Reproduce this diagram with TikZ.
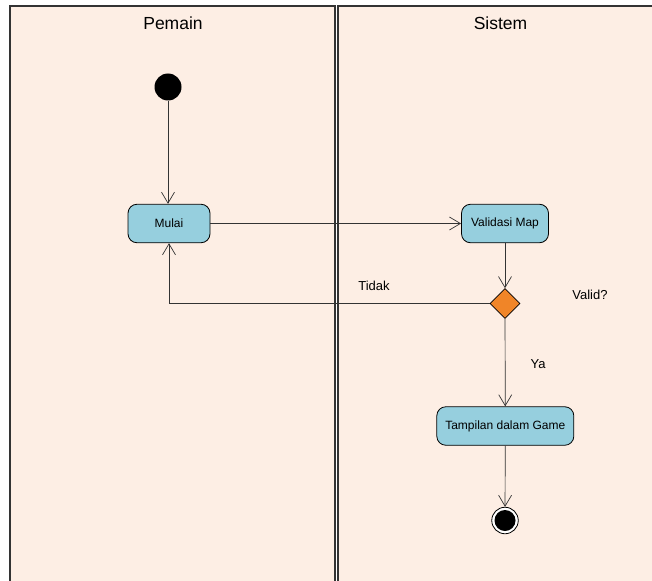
\documentclass[tikz,border=0pt]{standalone}
\usepackage{fontspec}
\setmainfont{Liberation Sans}
\usetikzlibrary{shapes.geometric, arrows.meta, calc}
\definecolor{latar}{RGB}{253,238,228}
\definecolor{biru}{RGB}{150,207,222}
\definecolor{oranye}{RGB}{240,133,40}
\tikzstyle{jalur} = [
    rectangle,
    draw = black!80,
    line width = 1.5pt,
    fill = latar,
]
\tikzstyle{aktivitas} = [
    rectangle,
    rounded corners = 9pt,
    minimum height = 38.5pt,
    text centered,
    draw = black,
    line width = 0.8pt,
    fill = biru,
    font = \fontsize{12}{14}\selectfont,
]
\tikzstyle{keputusan} = [
    diamond,
    minimum width = 30pt,
    minimum height = 30pt,
    inner sep = 0pt,
    draw = black,
    line width = 0.6pt,
    fill = oranye,
]
\tikzstyle{panah} = [
    -{Straight Barb[length=11pt, width=13pt]},
    draw = black!80,
    line width = 0.7pt,
]
\tikzstyle{judul} = [font = \fontsize{17.5}{20}\selectfont]
\tikzstyle{keterangan} = [font = \fontsize{13}{15}\selectfont]

\begin{document}
\begin{tikzpicture} [x = 1pt, y = -1pt]
    \useasboundingbox (0, 0) rectangle (652, 580);
    \begin{scope}
        \clip (0, 0) rectangle (652, 580);
        \draw[jalur] (10, 6) rectangle (335, 600);
        \draw[jalur] (338, 6) rectangle (670, 600);
    \end{scope}

    \node (Pemain) [judul] at (173, 23) {Pemain};
    \node (Sistem) [judul] at (500.5, 23) {Sistem};

    \node (Awal) [circle, fill = black, minimum size = 27pt, inner sep = 0pt] at (168, 87) {};
    \node (Mulai) [aktivitas, minimum width = 82pt] at (169, 223.5) {Mulai};
    \node (Validasi) [aktivitas, minimum width = 87pt] at (505, 223.5) {Validasi Map};
    \node (Cek) [keputusan] at (505, 303.5) {};
    \node (Tampilan) [aktivitas, minimum width = 137pt] at (505.3, 426) {Tampilan dalam Game};
    \node (Akhir) [circle, draw = black, line width = 0.8pt, fill = white, minimum size = 26.5pt, inner sep = 0pt,
        path picture = {\fill[black] (path picture bounding box.center) circle (10.5pt);}] at (505, 520.5) {};

    \node (Tidak) [keterangan] at (374, 286) {Tidak};
    \node (Valid) [keterangan] at (590, 295) {Valid?};
    \node (Ya) [keterangan] at (538, 364) {Ya};

    \draw[panah] (Awal) -- (Awal |- Mulai.north);
    \draw[panah] (Mulai) -- (Validasi);
    \draw[panah] (Validasi) -- (Cek);
    \draw[panah] (Cek.west) -| (Mulai.south);
    \draw[panah] (Cek) -- (Tampilan);
    \draw[panah] (Tampilan) -- (Akhir);
\end{tikzpicture}
\end{document}
